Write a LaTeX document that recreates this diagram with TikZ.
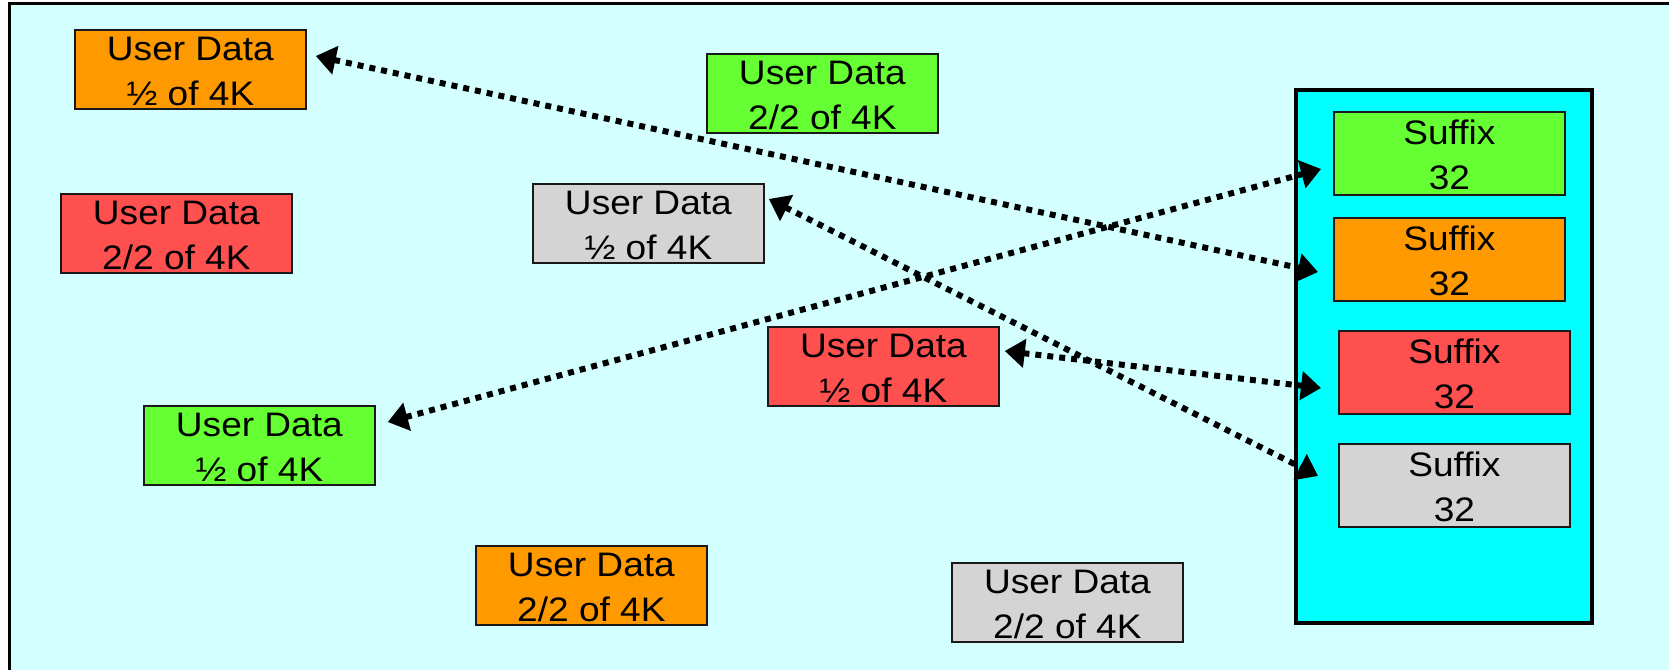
\documentclass[tikz,border=0pt]{standalone}
\usepackage{fontspec}
\setmainfont{Liberation Sans}[FakeStretch=1.09]
\usetikzlibrary{arrows.meta}
\definecolor{bgcyan}{RGB}{212,255,255}
\definecolor{boxcyan}{RGB}{0,255,255}
\definecolor{uorange}{RGB}{255,153,0}
\definecolor{ugreen}{RGB}{102,255,51}
\definecolor{ured}{RGB}{255,80,80}
\definecolor{ugray}{RGB}{212,212,212}
\definecolor{edge}{RGB}{25,25,25}
\tikzset{
  databox/.style={draw=edge, line width=1.8pt, inner sep=0pt, anchor=north west,
    minimum width=231pt, minimum height=79pt, align=center,
    text height=76pt, text depth=3pt,
    font={\fontsize{34}{45}\selectfont}},
  suffbox/.style={databox, minimum height=83pt, text height=78pt, text depth=5pt},
  link/.style={line width=6pt, dash pattern=on 6pt off 6pt,
    {Triangle[length=20pt,width=28pt]}-{Triangle[length=20pt,width=28pt]}}
}
\begin{document}
\begin{tikzpicture}[x=1pt,y=-1pt]
\useasboundingbox (0,0) rectangle (1669,669);
\fill[white] (0,0) rectangle (1669,669);
\begin{scope}
\clip (0,0) rectangle (1669,669);
\draw[line width=3pt, fill=bgcyan] (9,4) rectangle (1700,700);
\end{scope}
% container
\node[draw=black, line width=3.5pt, fill=boxcyan, inner sep=0pt, anchor=north west,
  minimum width=296pt, minimum height=533pt] (cont) at (1294,88) {};
% user data boxes
\node[databox, fill=uorange] (oTL) at (74,29) {User Data\\½ of 4K};
\node[databox, fill=ugreen]  (gTM) at (706,53) {User Data\\2/2 of 4K};
\node[databox, fill=ured]    (rL)  at (60,193) {User Data\\2/2 of 4K};
\node[databox, fill=ugray]   (yM)  at (532,183) {User Data\\½ of 4K};
\node[databox, fill=ured]    (rM)  at (767,326) {User Data\\½ of 4K};
\node[databox, fill=ugreen]  (gL)  at (143,405) {User Data\\½ of 4K};
\node[databox, fill=uorange] (oB)  at (475,545) {User Data\\2/2 of 4K};
\node[databox, fill=ugray]   (yB)  at (951,562) {User Data\\2/2 of 4K};
% suffix boxes
\node[suffbox, fill=ugreen]  (sG) at (1333,111) {Suffix\\32};
\node[suffbox, fill=uorange] (sO) at (1333,217) {Suffix\\32};
\node[suffbox, fill=ured]    (sR) at (1338,330) {Suffix\\32};
\node[suffbox, fill=ugray]   (sY) at (1338,443) {Suffix\\32};
% links
\draw[link] ([shift={(9,27)}]oTL.north east) -- ([shift={(-15,55)}]sO.north west);
\draw[link] ([shift={(12,17)}]gL.north east) -- ([shift={(-12,58)}]sG.north west);
\draw[link] ([shift={(4,16)}]yM.north east) -- ([shift={(-20,33)}]sY.north west);
\draw[link] ([shift={(5,25)}]rM.north east) -- ([shift={(-17,58)}]sR.north west);
\end{tikzpicture}
\end{document}
